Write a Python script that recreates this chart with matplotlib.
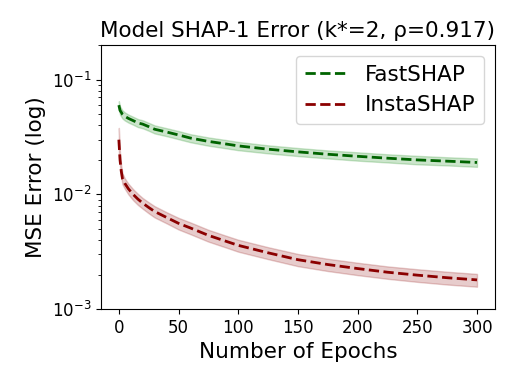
import numpy as np
import matplotlib
matplotlib.use("Agg")
import matplotlib.pyplot as plt

epochs = [0, 1, 2, 3, 5, 8, 12, 16, 20, 25, 30, 40, 50, 60, 75, 90, 100,
          125, 150, 175, 200, 225, 250, 275, 300]

fast_mean = [0.060, 0.054, 0.052, 0.050, 0.048, 0.046, 0.044, 0.042, 0.041,
             0.039, 0.037, 0.035, 0.033, 0.031, 0.029, 0.0275, 0.0265,
             0.0248, 0.0235, 0.0224, 0.0215, 0.0207, 0.0200, 0.0195, 0.0190]
fast_std = [0.005, 0.0045, 0.0043, 0.0041, 0.0039, 0.0037, 0.0035, 0.0034,
            0.0033, 0.0031, 0.0030, 0.0028, 0.0027, 0.0025, 0.0024, 0.0023,
            0.0022, 0.0020, 0.0019, 0.0018, 0.0018, 0.0017, 0.0017, 0.0016,
            0.0016]

insta_mean = [0.030, 0.020, 0.016, 0.0138, 0.0125, 0.0112, 0.0100, 0.0091,
              0.0084, 0.0077, 0.0071, 0.0063, 0.0056, 0.0051, 0.0044, 0.0039,
              0.0036, 0.0031, 0.0027, 0.00245, 0.00226, 0.0021, 0.00198,
              0.00188, 0.0018]
insta_std = [0.008, 0.0025, 0.0018, 0.0015, 0.0013, 0.0012, 0.0011, 0.0010,
             0.0009, 0.00085, 0.0008, 0.0007, 0.00065, 0.0006, 0.00052,
             0.00046, 0.00043, 0.00037, 0.00033, 0.0003, 0.00028, 0.00026,
             0.00025, 0.00024, 0.00023]

x = np.array(epochs)
fm, fs = np.array(fast_mean), np.array(fast_std)
im, istd = np.array(insta_mean), np.array(insta_std)

fig = plt.figure(figsize=(5.15, 3.86), dpi=100)
ax = fig.add_axes([0.196, 0.199, 0.765, 0.684])

ax.plot(x, fm, '--', color='darkgreen', linewidth=2, label='FastSHAP')
ax.fill_between(x, fm - fs, fm + fs, color='green', alpha=0.2)
ax.plot(x, im, '--', color='darkred', linewidth=2, label='InstaSHAP')
ax.fill_between(x, im - istd, im + istd, color='darkred', alpha=0.2)

ax.set_yscale('log')
ax.set_ylim(1e-3, 0.2)
ax.set_xlim(-15, 315)
ax.set_xticks([0, 50, 100, 150, 200, 250, 300])
ax.tick_params(labelsize=12)
ax.set_title('Model SHAP-1 Error (k*=2, ρ=0.917)', fontsize=15.5)
ax.set_xlabel('Number of Epochs', fontsize=15.5)
ax.set_ylabel('MSE Error (log)', fontsize=15.5)
ax.legend(loc='upper right', fontsize=15.5)

fig.savefig('out.png', dpi=100)
